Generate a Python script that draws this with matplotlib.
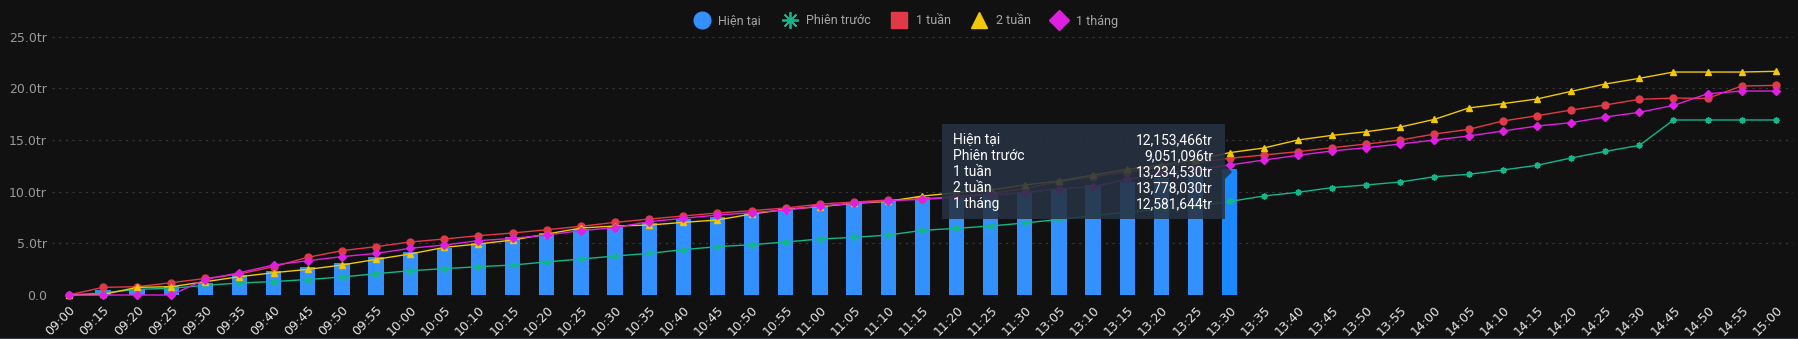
import numpy as np
import matplotlib
matplotlib.use('Agg')
import matplotlib.pyplot as plt
from matplotlib.lines import Line2D

# Time slots (lunch break skipped)
times = ['09:00', '09:15', '09:20', '09:25', '09:30', '09:35', '09:40', '09:45', '09:50', '09:55',
         '10:00', '10:05', '10:10', '10:15', '10:20', '10:25', '10:30', '10:35', '10:40', '10:45',
         '10:50', '10:55', '11:00', '11:05', '11:10', '11:15', '11:20', '11:25', '11:30', '13:05',
         '13:10', '13:15', '13:20', '13:25', '13:30', '13:35', '13:40', '13:45', '13:50', '13:55',
         '14:00', '14:05', '14:10', '14:15', '14:20', '14:25', '14:30', '14:45', '14:50', '14:55',
         '15:00']

# Hien tai (bars, up to 13:30)
hien_tai = [0, 0.48, 0.6, 0.87, 1.2, 1.9, 2.35, 2.75, 3.06, 3.68,
            4.13, 4.52, 5.0, 5.58, 5.97, 6.35, 6.6, 6.94, 7.35, 7.58,
            7.9, 8.29, 8.7, 8.97, 9.2, 9.45, 9.65, 9.85, 10.0, 10.3,
            10.6, 10.9, 11.3, 11.65, 12.153]

phien_truoc = [0, 0.2, 0.55, 0.65, 0.94, 1.16, 1.3, 1.5, 1.74, 2.06,
               2.35, 2.55, 2.74, 2.9, 3.2, 3.48, 3.77, 4.03, 4.39, 4.68,
               4.87, 5.13, 5.42, 5.58, 5.8, 6.26, 6.45, 6.68, 6.97, 7.32,
               7.68, 8.03, 8.29, 8.6, 9.051, 9.58, 9.94, 10.39, 10.65, 10.94,
               11.45, 11.68, 12.1, 12.55, 13.26, 13.9, 14.48, 16.94, 16.94, 16.94,
               16.94]

tuan_1 = [0, 0.74, 0.8, 1.19, 1.6, 2.03, 2.74, 3.65, 4.29, 4.68,
          5.13, 5.42, 5.74, 6.0, 6.32, 6.65, 7.03, 7.35, 7.65, 7.94,
          8.16, 8.42, 8.8, 9.0, 9.19, 9.32, 9.5, 9.84, 10.3, 10.97,
          11.45, 11.94, 12.4, 12.8, 13.235, 13.55, 13.87, 14.26, 14.61, 15.0,
          15.58, 16.03, 16.84, 17.35, 17.9, 18.39, 18.94, 19.06, 19.03, 20.23,
          20.29]

tuan_2 = [0, 0.05, 0.74, 0.8, 1.29, 1.77, 2.16, 2.48, 2.9, 3.45,
          3.97, 4.61, 4.94, 5.32, 5.9, 6.48, 6.68, 6.77, 7.03, 7.26,
          7.84, 8.29, 8.55, 8.87, 9.06, 9.58, 9.9, 10.16, 10.65, 11.03,
          11.61, 12.16, 12.58, 13.06, 13.778, 14.23, 15.0, 15.45, 15.8, 16.26,
          17.0, 18.1, 18.52, 18.97, 19.71, 20.42, 20.97, 21.58, 21.58, 21.58,
          21.65]

thang_1 = [0, 0, 0, 0, 1.5, 2.16, 2.9, 3.32, 3.71, 4.03,
           4.52, 4.84, 5.26, 5.48, 5.81, 6.23, 6.52, 7.1, 7.42, 7.74,
           7.97, 8.23, 8.61, 8.87, 9.13, 9.26, 9.45, 9.68, 9.9, 10.29,
           10.48, 11.19, 11.77, 12.1, 12.582, 13.06, 13.52, 13.94, 14.26, 14.61,
           15.0, 15.39, 15.87, 16.35, 16.68, 17.23, 17.68, 18.35, 19.48, 19.74,
           19.74]

tooltip_names = ['Hiện tại', 'Phiên trước', '1 tuần', '2 tuần', '1 tháng']
tooltip_vals = ['12,153,466tr', '9,051,096tr', '13,234,530tr', '13,778,030tr', '12,581,644tr']

bg = '#111111'
c_bar, c_bar_hi = '#3391ff', '#1a88ff'
c_green, c_red, c_yellow, c_mag = '#13b58a', '#e03a48', '#f0c808', '#e020e0'

plt.rcParams['font.family'] = ['DejaVu Sans']
fig = plt.figure(figsize=(17.99, 3.39), dpi=100, facecolor=bg)
ax = fig.add_axes([51.7 / 1799, 44 / 339, (1793 - 51.7) / 1799, (295 - 36.7) / 339])
ax.set_facecolor(bg)

x = np.arange(len(times))
xb = np.arange(len(hien_tai))
bar_colors = [c_bar] * (len(hien_tai) - 1) + [c_bar_hi]
ax.bar(xb, hien_tai, width=0.45, color=bar_colors, zorder=2)

ax.plot(x, phien_truoc, color=c_green, lw=1.0, marker=(8, 2, 0), ms=4.5, mew=1.1, zorder=3, clip_on=False)
ax.plot(x, tuan_1, color=c_red, lw=1.0, marker='o', ms=5, zorder=3, clip_on=False)
ax.plot(x, tuan_2, color=c_yellow, lw=1.0, marker='^', ms=5, zorder=3, clip_on=False)
ax.plot(x, thang_1, color=c_mag, lw=1.0, marker='D', ms=4.2, zorder=4, clip_on=False)

ax.set_xlim(-0.5, len(times) - 0.5)
ax.set_ylim(0, 25)
ax.set_yticks([0, 5, 10, 15, 20, 25])
ax.set_yticklabels(['0.0', '5.0tr', '10.0tr', '15.0tr', '20.0tr', '25.0tr'], color='#9a9a9a', fontsize=9)
ax.set_xticks(x)
ax.set_xticklabels(times, rotation=45, ha='right', rotation_mode='anchor', color='#e6e6e6', fontsize=9)
ax.tick_params(axis='both', length=0)
ax.tick_params(axis='x', pad=6)
ax.grid(axis='y', color='#3a3a3a', ls=(0, (2, 4)), lw=0.8, zorder=0)
for s in ax.spines.values():
    s.set_visible(False)

# tooltip box
tx0, ty0, tx1, ty1 = 942 / 1799, 1 - 219 / 339, 1225 / 1799, 1 - 124 / 339
box = plt.Rectangle((tx0, ty0), tx1 - tx0, ty1 - ty0, transform=fig.transFigure,
                    facecolor='#263241', alpha=0.88, edgecolor='none', zorder=10)
fig.add_artist(box)
fig.add_artist(plt.Polygon([[tx1, 1 - 165 / 339], [tx1 + 7 / 1799, 1 - 172 / 339], [tx1, 1 - 179 / 339]],
                           closed=True, transform=fig.transFigure, facecolor='#263241', alpha=0.88,
                           edgecolor='none', zorder=10))
for i, (n, v) in enumerate(zip(tooltip_names, tooltip_vals)):
    yy = 1 - (140 + 16 * i) / 339
    fig.text(953 / 1799, yy, n, color='white', fontsize=10, family='Roboto', va='center', ha='left', zorder=11)
    fig.text(1213 / 1799, yy, v, color='white', fontsize=10, family='Roboto', va='center', ha='right', zorder=11)

# legend
handles = [
    Line2D([], [], ls='none', marker='o', ms=12, color=c_bar),
    Line2D([], [], ls='none', marker=(8, 2, 0), ms=12, mew=1.3, color=c_green),
    Line2D([], [], ls='none', marker='s', ms=11, color=c_red),
    Line2D([], [], ls='none', marker='^', ms=12, color=c_yellow),
    Line2D([], [], ls='none', marker='D', ms=10, color=c_mag),
]
fig.legend(handles, tooltip_names, loc='center', bbox_to_anchor=(906 / 1799, 1 - 21 / 339), ncol=5,
           frameon=False, prop={'family': 'Roboto', 'size': 9}, labelcolor='#a8a8a8',
           handletextpad=0.7, columnspacing=1.7, handlelength=1.2)

# bottom border
fig.add_artist(Line2D([0, 1], [0.5 / 339, 0.5 / 339], transform=fig.transFigure, color='#2c3e50', lw=1.5))

plt.savefig('out.png', dpi=100, facecolor=bg)
